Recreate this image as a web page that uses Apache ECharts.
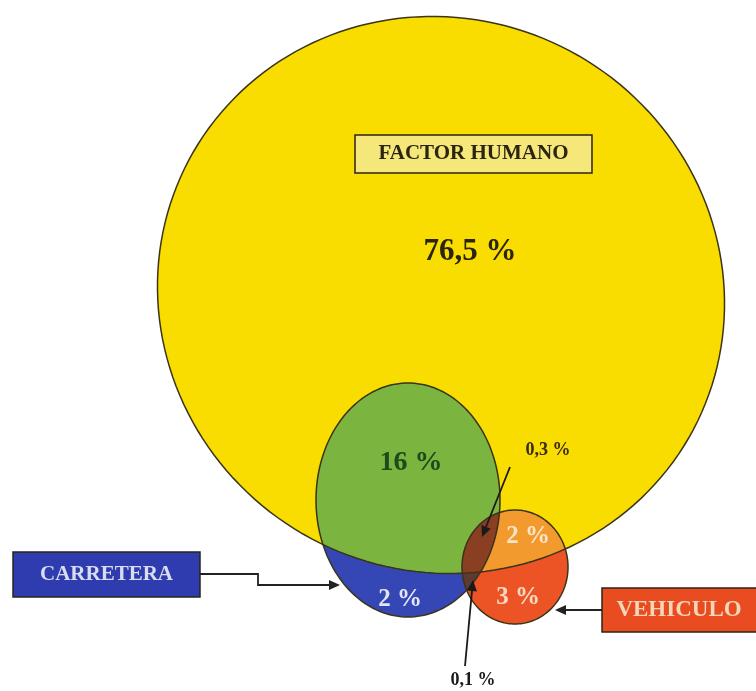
<!DOCTYPE html>
<html>
<head>
<meta charset="utf-8">
<script src="https://cdn.jsdelivr.net/npm/echarts@6/dist/echarts.min.js"></script>
<style>
  html, body { margin: 0; padding: 0; background: #fff; }
  #main { width: 756px; height: 691px; }
</style>
</head>
<body>
<div id="main"></div>
<script>
// factores de accidentes
const factors = ['FACTOR HUMANO', 'CARRETERA', 'VEHICULO']
// zonas del diagrama: qué factores las forman (orden de dibujo) y su porcentaje
const zoneSets = [[0], [1], [2], [0, 1], [0, 2], [1, 2], [0, 1, 2]]
const zoneShares = [76.5, 2, 3, 16, 2, 0.1, 0.3]

// geometría (unidades del eje = píxeles)
const shapes = [
  { cx: 441, cy: 295, rx: 286, ry: 276, rot: 30 },
  { cx: 408, cy: 500, rx: 92, ry: 117, rot: 0 },
  { cx: 515, cy: 567, rx: 53, ry: 57, rot: 0 },
]
const zoneColors = ['#F9DC00', '#3447B4', '#EC5425', '#7BB540', '#F29A2E', '#5E3A33', '#8A3E22']
const zoneLabels = [
  { x: 470, y: 252, size: 31, color: '#2a2410' },
  { x: 400, y: 600, size: 25, color: '#E2E6F6' },
  { x: 518, y: 598, size: 25, color: '#F6D9C0' },
  { x: 411, y: 463, size: 28, color: '#1E4A1C' },
  { x: 528, y: 537, size: 25, color: '#F8E4C8' },
  { x: 473, y: 680, size: 18, color: '#1a1a1a', arrow: [[465, 666], [473, 580]] },
  { x: 548, y: 450, size: 18, color: '#3a2a10', arrow: [[510, 467], [482, 537]] },
]
const factorBoxes = [
  { x0: 355, y0: 135, x1: 592, y1: 173, fill: '#F6E77A', color: '#2a2410', size: 21 },
  { x0: 13, y0: 552, x1: 200, y1: 597, fill: '#2F3CB0', color: '#D9DDF0', size: 21, arrow: [[200, 574], [258, 574], [258, 585], [340, 585]] },
  { x0: 602, y0: 588, x1: 780, y1: 632, fill: '#E84C20', color: '#F6D6B8', size: 23, arrow: [[602, 610], [555, 610]] },
]

function ellipsePts(s) {
  const pts = []
  const c = Math.cos(s.rot * Math.PI / 180), sn = Math.sin(s.rot * Math.PI / 180)
  for (let i = 0; i < 180; i++) {
    const t = i / 180 * Math.PI * 2
    const u = s.rx * Math.cos(t), v = s.ry * Math.sin(t)
    pts.push([s.cx + u * c - v * sn, s.cy + u * sn + v * c])
  }
  return pts
}

function cut(p1, p2, a, b) {
  const den = (p1[0] - p2[0]) * (a[1] - b[1]) - (p1[1] - p2[1]) * (a[0] - b[0])
  const t = ((p1[0] - a[0]) * (a[1] - b[1]) - (p1[1] - a[1]) * (a[0] - b[0])) / den
  return [p1[0] + t * (p2[0] - p1[0]), p1[1] + t * (p2[1] - p1[1])]
}

// recorte Sutherland-Hodgman contra un polígono convexo
function clip(subject, clipPoly) {
  let area = 0
  for (let i = 0; i < clipPoly.length; i++) {
    const p = clipPoly[i], q = clipPoly[(i + 1) % clipPoly.length]
    area += p[0] * q[1] - q[0] * p[1]
  }
  const sign = area > 0 ? 1 : -1
  let out = subject
  for (let i = 0; i < clipPoly.length && out.length; i++) {
    const a = clipPoly[i], b = clipPoly[(i + 1) % clipPoly.length]
    const inside = p => sign * ((b[0] - a[0]) * (p[1] - a[1]) - (b[1] - a[1]) * (p[0] - a[0])) >= 0
    const input = out
    out = []
    for (let j = 0; j < input.length; j++) {
      const cur = input[j], prev = input[(j + input.length - 1) % input.length]
      if (inside(cur)) {
        if (!inside(prev)) out.push(cut(prev, cur, a, b))
        out.push(cur)
      } else if (inside(prev)) {
        out.push(cut(prev, cur, a, b))
      }
    }
  }
  return out
}

function arrowEls(api, pts, color) {
  const px = pts.map(p => api.coord(p))
  const n = px.length
  const [x1, y1] = px[n - 2], [x2, y2] = px[n - 1]
  const len = Math.hypot(x2 - x1, y2 - y1)
  const ux = (x2 - x1) / len, uy = (y2 - y1) / len
  const hl = 11, hw = 5
  const bx = x2 - ux * hl, by = y2 - uy * hl
  const line = px.slice(0, n - 1).concat([[bx, by]])
  return [
    { type: 'polyline', shape: { points: line }, style: { stroke: color, lineWidth: 1.8, fill: null } },
    { type: 'polygon', shape: { points: [[x2, y2], [bx - uy * hw, by + ux * hw], [bx + uy * hw, by - ux * hw]] }, style: { fill: color } },
  ]
}

const fmt = v => String(v).replace('.', ',') + ' %'
const font = (size) => 'bold ' + size + 'px "Liberation Serif", "DejaVu Serif", serif'

let charts = echarts.init(document.getElementById('main'))
charts.setOption({
  animation: false,
  grid: { left: 0, right: 0, top: 0, bottom: 0 },
  xAxis: { type: 'value', min: 0, max: 756, show: false },
  yAxis: { type: 'value', min: 0, max: 691, inverse: true, show: false },
  series: [
    {
      name: 'zonas',
      type: 'custom',
      clip: false,
      data: zoneShares.map((v, i) => [i, v]),
      renderItem: function (params, api) {
        const sets = zoneSets[params.dataIndex]
        let poly = ellipsePts(shapes[sets[0]])
        for (let k = 1; k < sets.length; k++) poly = clip(poly, ellipsePts(shapes[sets[k]]))
        return {
          type: 'polygon',
          shape: { points: poly.map(p => api.coord(p)) },
          style: { fill: zoneColors[params.dataIndex] },
        }
      },
    },
    {
      name: 'contornos',
      type: 'custom',
      clip: false,
      data: factors.map((f, i) => [i]),
      renderItem: function (params, api) {
        return {
          type: 'polygon',
          shape: { points: ellipsePts(shapes[params.dataIndex]).map(p => api.coord(p)) },
          style: { fill: null, stroke: '#3b3418', lineWidth: 1.5 },
        }
      },
    },
    {
      name: 'etiquetas',
      type: 'custom',
      clip: false,
      data: zoneShares.map((v, i) => [i, v]),
      renderItem: function (params, api) {
        const lb = zoneLabels[params.dataIndex]
        const p = api.coord([lb.x, lb.y])
        const children = [{
          type: 'text', x: p[0], y: p[1],
          style: { text: fmt(zoneShares[params.dataIndex]), fill: lb.color, font: font(lb.size), align: 'center', verticalAlign: 'middle', textAlign: 'center', textVerticalAlign: 'middle' },
        }]
        if (lb.arrow) children.push(...arrowEls(api, lb.arrow, '#1a1a1a'))
        return { type: 'group', children }
      },
    },
    {
      name: 'factores',
      type: 'custom',
      clip: false,
      data: factors.map((f, i) => [i]),
      renderItem: function (params, api) {
        const b = factorBoxes[params.dataIndex]
        const p0 = api.coord([b.x0, b.y0]), p1 = api.coord([b.x1, b.y1])
        const children = [
          { type: 'rect', shape: { x: p0[0], y: p0[1], width: p1[0] - p0[0], height: p1[1] - p0[1] }, style: { fill: b.fill, stroke: '#2a2418', lineWidth: 1.5 } },
          {
            type: 'text', x: (p0[0] + Math.min(p1[0], 756)) / 2, y: (p0[1] + p1[1]) / 2,
            style: { text: factors[params.dataIndex], fill: b.color, font: font(b.size), align: 'center', verticalAlign: 'middle', textAlign: 'center', textVerticalAlign: 'middle' },
          },
        ]
        if (b.arrow) children.push(...arrowEls(api, b.arrow, '#222'))
        return { type: 'group', children }
      },
    },
  ],
})
</script>
</body>
</html>
